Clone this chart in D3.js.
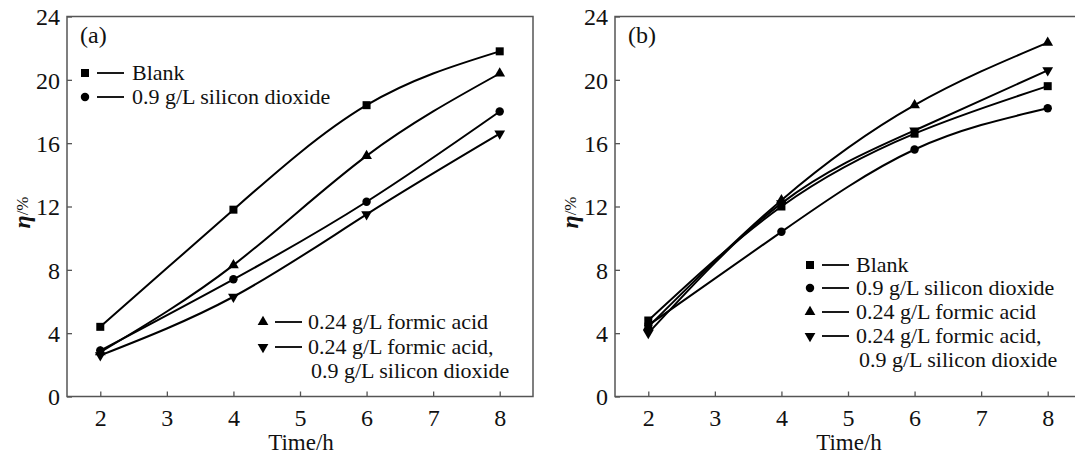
<!DOCTYPE html>
<html>
<head>
<meta charset="utf-8">
<script src="https://cdn.jsdelivr.net/npm/d3@7"></script>
<style>
html,body{margin:0;padding:0;background:#fff;overflow:hidden;}
svg{display:block;}
text{font-family:"Liberation Serif","Times New Roman",serif;fill:#111;}
</style>
</head>
<body>
<svg id="chart" width="1075" height="457"></svg>
<script>
// ---- data ----
const times = [2, 4, 6, 8];
const xTicks = [2, 3, 4, 5, 6, 7, 8];
const yTicks = [0, 4, 8, 12, 16, 20, 24];
const seriesNames = ["Blank", "0.9 g/L silicon dioxide", "0.24 g/L formic acid", "0.24 g/L formic acid,"];
const seriesSymbols = ["square", "circle", "triangle", "down"];
// panel (a)
const aBlank   = [4.4, 11.8, 18.4, 21.8];
const aSilica  = [2.9, 7.4, 12.3, 18.0];
const aFormic  = [2.8, 8.3, 15.2, 20.4];
const aBoth    = [2.6, 6.3, 11.5, 16.6];
// panel (b)
const bBlank   = [4.8, 12.0, 16.6, 19.6];
const bSilica  = [4.5, 10.4, 15.6, 18.2];
const bFormic  = [4.4, 12.4, 18.4, 22.35];
const bBoth    = [4.0, 12.2, 16.8, 20.6];

const svg = d3.select("#chart");
const FS = 22;
const TFS = 24;

function symbolPath(type, size) {
  const t = {square: d3.symbolSquare, circle: d3.symbolCircle, triangle: d3.symbolTriangle, down: d3.symbolTriangle}[type];
  return d3.symbol().type(t).size(size)();
}

function drawMarker(g, type, x, y) {
  const sizes = {square: 64, circle: 56, triangle: 50, down: 50};
  g.append("path")
    .attr("d", symbolPath(type, sizes[type]))
    .attr("transform", `translate(${x},${y})` + (type === "down" ? " rotate(180)" : ""))
    .attr("fill", "#000");
}

function panel(opts) {
  const x = d3.scaleLinear().domain([1.5, 8.5]).range([opts.x0, opts.x0 + 466]);
  const y = d3.scaleLinear().domain([0, 24]).range([396.5, 16.5]);
  const g = svg.append("g");

  // frame
  g.append("rect")
    .attr("x", x.range()[0]).attr("y", y.range()[1])
    .attr("width", x.range()[1] - x.range()[0])
    .attr("height", y.range()[0] - y.range()[1])
    .attr("fill", "none").attr("stroke", "#555").attr("stroke-width", 1.5);

  // axes (inward ticks)
  const xa = g.append("g").attr("transform", `translate(0,${y(0)})`)
    .call(d3.axisBottom(x).tickValues(xTicks).tickSize(-5).tickPadding(7).tickFormat(d3.format("d")));
  const ya = g.append("g").attr("transform", `translate(${x.range()[0]},0)`)
    .call(d3.axisLeft(y).tickValues(yTicks).tickSize(-5).tickPadding(7).tickFormat(d3.format("d")));
  [xa, ya].forEach(a => {
    a.select(".domain").remove();
    a.selectAll(".tick line").attr("stroke", "#555").attr("stroke-width", 1.3);
    a.selectAll(".tick text").attr("font-size", TFS).attr("font-family", "Liberation Serif").attr("fill", "#111");
  });
  xa.selectAll(".tick text").attr("dy", "0.95em");
  ya.selectAll(".tick text").attr("dy", "0.35em");

  // axis titles
  g.append("text").attr("x", (x(2) + x(8)) / 2 + 1).attr("y", 450)
    .attr("text-anchor", "middle").attr("font-size", 23).text("Time/h");
  const yl = g.append("text")
    .attr("transform", `translate(${x.range()[0] - 37},${y(12) + 6}) rotate(-90)`)
    .attr("text-anchor", "middle");
  yl.append("tspan").attr("font-style", "italic").attr("font-weight", "bold").attr("font-size", 24).text("η");
  yl.append("tspan").attr("font-size", 17).attr("dy", -2).text("/%");

  // panel tag
  g.append("text").attr("x", x.range()[0] + 13).attr("y", 43)
    .attr("font-size", TFS).text(opts.tag);

  // lines
  const line = d3.line().x((d, i) => x(times[i])).y(d => y(d)).curve(d3.curveNatural);
  opts.series.forEach((vals, k) => {
    g.append("path").attr("d", line(vals)).attr("fill", "none")
      .attr("stroke", "#000").attr("stroke-width", 2);
  });
  opts.series.forEach((vals, k) => {
    vals.forEach((v, i) => drawMarker(g, seriesSymbols[k], x(times[i]), y(v)));
  });

  // legend
  opts.legend.forEach(item => {
    const lg = g.append("g");
    if (item.sym) {
      drawMarker(lg, item.sym, item.mx, item.cy);
      lg.append("line").attr("x1", item.mx + 12).attr("x2", item.mx + 39)
        .attr("y1", item.cy).attr("y2", item.cy).attr("stroke", "#000").attr("stroke-width", 1.8);
    }
    lg.append("text").attr("x", item.tx).attr("y", item.cy).attr("dy", "0.33em")
      .attr("font-size", FS).text(item.label);
  });
}

panel({
  x0: 67, tag: "(a)",
  series: [aBlank, aSilica, aFormic, aBoth],
  legend: [
    {sym: "square",   mx: 85,  tx: 132, cy: 73,  label: seriesNames[0]},
    {sym: "circle",   mx: 85,  tx: 132, cy: 97,  label: seriesNames[1]},
    {sym: "triangle", mx: 263, tx: 308, cy: 322, label: seriesNames[2]},
    {sym: "down",     mx: 263, tx: 308, cy: 347, label: seriesNames[3]},
    {sym: null,       mx: 263, tx: 311, cy: 371, label: seriesNames[1]}
  ]
});

panel({
  x0: 615, tag: "(b)",
  series: [bBlank, bSilica, bFormic, bBoth],
  legend: [
    {sym: "square",   mx: 810, tx: 856, cy: 265, label: seriesNames[0]},
    {sym: "circle",   mx: 810, tx: 856, cy: 288, label: seriesNames[1]},
    {sym: "triangle", mx: 810, tx: 856, cy: 312, label: seriesNames[2]},
    {sym: "down",     mx: 810, tx: 856, cy: 336, label: seriesNames[3]},
    {sym: null,       mx: 810, tx: 859, cy: 360, label: seriesNames[1]}
  ]
});
</script>
</body>
</html>
